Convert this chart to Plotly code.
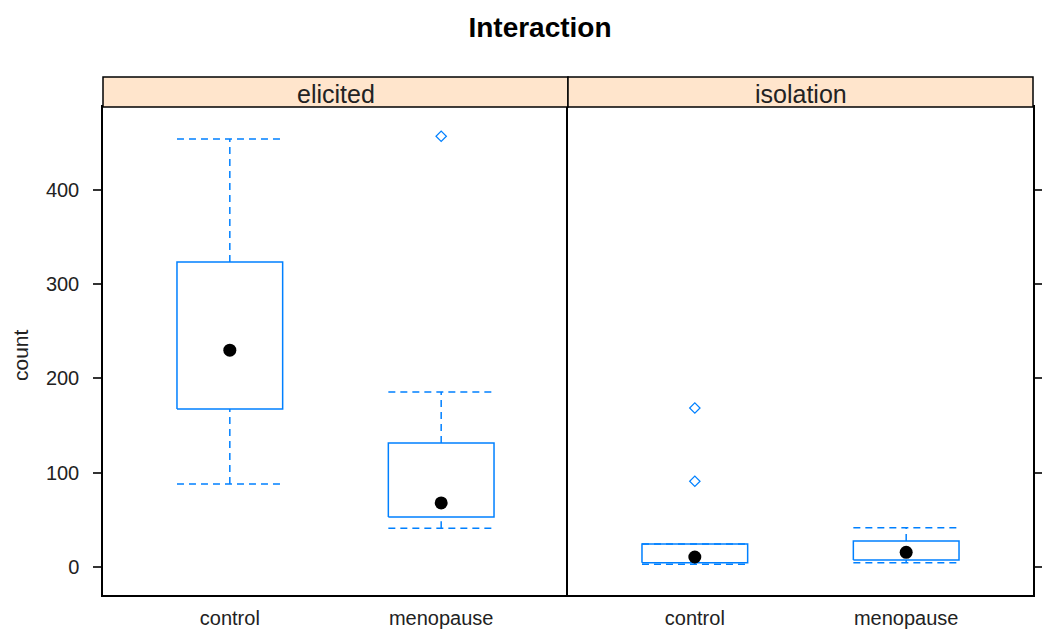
import plotly.graph_objects as go

# ---- data ----
panels = ["elicited", "isolation"]
groups = ["control", "menopause"]
whisker_lo = [[88, 41], [3, 4.6]]
q1 = [[167.6, 53], [4.5, 7.4]]
median = [[230, 68], [10.6, 15.6]]
q3 = [[323.6, 131.6], [24.4, 27.6]]
whisker_hi = [[454, 185.7], [24.4, 41.7]]
outliers = [[[], [457]], [[168.7, 91], []]]
y_ticks = [0, 100, 200, 300, 400]

BLUE = "#0080ff"
HALF = 0.25
DASH = "7px,5px"
FONT = "Liberation Sans"

fig = go.Figure()

for p, panel in enumerate(panels):
    xa = "x" if p == 0 else "x2"
    ya = "y" if p == 0 else "y2"
    for g, grp in enumerate(groups):
        pos = g + 1
        # box rectangle
        fig.add_trace(go.Scatter(
            x=[pos - HALF, pos + HALF, pos + HALF, pos - HALF, pos - HALF],
            y=[q1[p][g], q1[p][g], q3[p][g], q3[p][g], q1[p][g]],
            mode="lines", line=dict(color=BLUE, width=1.5),
            xaxis=xa, yaxis=ya, hoverinfo="skip", showlegend=False))
        # whiskers (vertical dashed)
        fig.add_trace(go.Scatter(
            x=[pos, pos, None, pos, pos],
            y=[q3[p][g], whisker_hi[p][g], None, whisker_lo[p][g], q1[p][g]],
            mode="lines", line=dict(color=BLUE, width=1.5, dash=DASH),
            xaxis=xa, yaxis=ya, hoverinfo="skip", showlegend=False))
        # caps (horizontal dashed)
        fig.add_trace(go.Scatter(
            x=[pos - HALF, pos + HALF, None, pos - HALF, pos + HALF],
            y=[whisker_hi[p][g], whisker_hi[p][g], None, whisker_lo[p][g], whisker_lo[p][g]],
            mode="lines", line=dict(color=BLUE, width=1.5, dash=DASH),
            xaxis=xa, yaxis=ya, hoverinfo="skip", showlegend=False))
        # median dot
        fig.add_trace(go.Scatter(
            x=[pos], y=[median[p][g]], mode="markers",
            marker=dict(color="black", size=13, symbol="circle"),
            xaxis=xa, yaxis=ya, showlegend=False))
        # outliers
        if outliers[p][g]:
            fig.add_trace(go.Scatter(
                x=[pos] * len(outliers[p][g]), y=outliers[p][g], mode="markers",
                marker=dict(color=BLUE, size=8, symbol="diamond-open",
                            line=dict(width=1.2, color=BLUE)),
                xaxis=xa, yaxis=ya, showlegend=False))

# page is offset by the 8px body margin, so margins are compensated
ML, MR, MT, MB = 95, 25, 99, 47
PLOT_W = 1050 - ML - MR
PLOT_H = 634 - MT - MB
STRIP = 30 / PLOT_H

xcommon = dict(range=[0.4, 2.6], tickvals=[1, 2], ticktext=groups,
               showline=True, linecolor="black", linewidth=1.5, mirror=True,
               ticks="", showgrid=False, zeroline=False, automargin=False,
               tickfont=dict(family=FONT, size=20, color="#222"),
               ticklabelstandoff=4)
ycommon = dict(range=[-29.7, 488], tickvals=y_ticks, showgrid=False, zeroline=False,
               showline=True, linecolor="black", linewidth=1.5,
               ticks="outside", ticklen=8, tickcolor="#333", tickwidth=1.5,
               automargin=False,
               tickfont=dict(family=FONT, size=20, color="#222"))

fig.update_layout(
    width=1050, height=634,
    margin=dict(l=ML, r=MR, t=MT, b=MB, autoexpand=False),
    paper_bgcolor="white", plot_bgcolor="white",
    xaxis=dict(domain=[0, 0.5], **xcommon),
    xaxis2=dict(domain=[0.5, 1], anchor="y2", **xcommon),
    yaxis=dict(anchor="x", ticklabelstandoff=10, mirror=False, **ycommon),
    yaxis2=dict(anchor="x2", side="right", showticklabels=False, matches="y",
                mirror=True, **ycommon),
    title=dict(text="<b>Interaction</b>", x=532 / 1050, xanchor="center",
               y=1 - 19 / 634, yanchor="middle", yref="container",
               font=dict(family=FONT, size=28, color="black")),
    showlegend=False,
)

# strips
for p, panel in enumerate(panels):
    xr = "x domain" if p == 0 else "x2 domain"
    yr = "y domain" if p == 0 else "y2 domain"
    fig.add_shape(type="rect", xref=xr, yref=yr, x0=0, x1=1, y0=1, y1=1 + STRIP,
                  fillcolor="#ffe5cc", line=dict(color="black", width=1.5), layer="above")
    fig.add_annotation(xref=xr, yref=yr, x=0.5, y=1 + STRIP * 0.45, text=panel,
                       showarrow=False, xanchor="center", yanchor="middle",
                       font=dict(family=FONT, size=25, color="#222"))

fig.add_annotation(xref="paper", yref="paper", x=(12 - ML) / PLOT_W, y=(587 - 347) / PLOT_H,
                   text="count", textangle=-90, showarrow=False,
                   xanchor="center", yanchor="middle",
                   font=dict(family=FONT, size=21, color="#222"))

fig.write_html("out.html")
